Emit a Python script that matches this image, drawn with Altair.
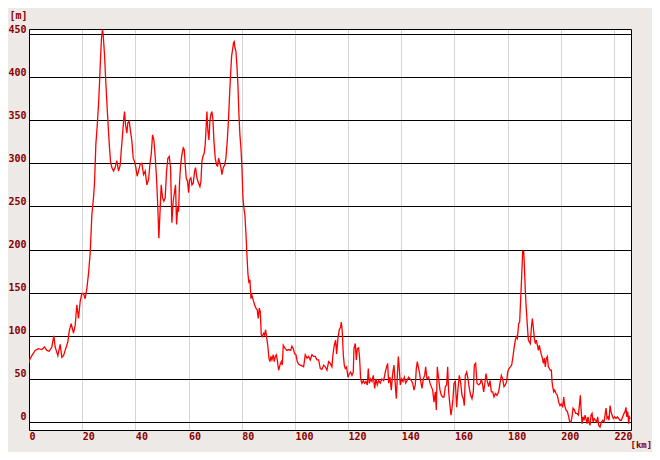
import altair as alt
import pandas as pd

# --- data (distance in km, elevation in m) ---
dist_a = [0.0, 0.2, 1.06, 2.32, 3.57, 4.83, 5.83, 6.71, 7.59, 8.59, 9.34, 9.84, 10.85, 11.72, 12.35,
          12.98, 13.6, 14.61, 15.11, 15.86, 16.74, 17.37, 17.99, 18.62, 19.25, 19.87, 20.5, 21.13,
          21.76, 22.38, 23.01, 23.64, 24.26, 24.64, 25.14, 25.64, 26.14, 26.52, 26.9, 27.27, 27.65,
          27.9, 28.4, 28.78, 29.15, 29.53, 29.9, 30.28, 30.66, 31.16, 31.79, 32.41, 33.04, 33.67,
          34.3, 34.67, 35.17, 35.67, 35.93, 36.3, 36.8, 37.18, 37.68, 38.18, 38.68, 39.19, 39.69,
          40.19, 40.69, 41.19, 41.82, 42.45, 43.07, 43.7, 44.33, 44.95, 45.58, 45.96, 46.46, 46.96,
          47.46, 47.96, 48.46, 48.84, 49.22, 49.72, 50.22, 50.72, 51.22, 51.73, 52.23, 52.73, 53.23,
          53.73, 54.23, 54.74, 55.11, 55.49, 55.95]
elev_a = [68, 72, 77, 83, 85, 84, 87, 83, 82, 87, 100, 87, 77, 90, 75,
          77, 83, 93, 105, 114, 103, 112, 136, 120, 140, 149, 149, 143,
          155, 172, 196, 240, 260, 277, 322, 343, 368, 393, 422, 446, 455,
          449, 426, 401, 378, 357, 337, 318, 302, 295, 291, 295, 303, 291,
          298, 314, 333, 353, 360, 345, 335, 347, 349, 337, 326, 306, 302,
          295, 285, 291, 299, 300, 287, 291, 275, 281, 302, 310, 333, 327,
          308, 283, 248, 213, 240, 275, 260, 256, 260, 291, 306, 308, 295,
          231, 256, 267, 275, 229, 250]

dist_b = [56.25, 56.63, 57.0, 57.5, 58.0, 58.38, 58.76, 59.13, 59.64, 60.01, 60.39, 60.89, 61.27,
          61.77, 62.27, 62.65, 63.15, 63.77, 64.28, 64.65, 65.03, 65.4, 65.9, 66.28, 66.66, 66.91,
          67.29, 67.66, 68.04, 68.41, 68.79, 69.17, 69.54, 70.04, 70.55, 70.92, 71.3, 71.67, 72.18,
          72.55, 73.05, 73.56, 74.06, 74.56, 75.06, 75.44, 75.81, 76.19, 76.56, 76.94, 77.19, 77.44,
          77.82, 78.2, 78.57, 78.95, 79.32, 79.7, 80.08, 80.45, 80.83, 81.2, 81.58, 81.96, 82.33,
          82.71, 83.09, 83.46, 83.84, 84.34, 84.84, 85.34, 85.84, 86.22, 86.6, 86.97, 87.35, 87.73,
          88.23, 88.6, 88.98, 89.36, 89.86, 90.23, 90.61, 90.99, 91.36, 91.86, 92.24, 92.62, 92.99,
          93.37, 93.87, 94.37, 94.87, 95.25, 95.63, 96.0, 96.38, 97.01, 97.63, 98.38, 98.89, 99.39,
          99.89, 100.39, 100.89, 101.39, 102.02, 102.65, 103.28, 103.9, 104.53, 105.16, 105.78,
          106.41, 107.04, 107.66, 108.29, 108.92, 109.55, 110.17, 110.8, 111.43, 112.05, 112.68]
elev_b = [244, 279, 297, 310, 318, 316, 298, 283, 279, 266, 281, 283, 275,
          277, 291, 295, 283, 277, 273, 279, 302, 308, 312, 322, 345, 360,
          337, 327, 349, 357, 360, 351, 326, 306, 298, 297, 306, 302, 295,
          287, 295, 298, 306, 326, 353, 380, 403, 424, 432, 440, 441, 434,
          430, 413, 391, 357, 333, 318, 295, 260, 248, 240, 219, 194, 172,
          161, 165, 143, 147, 141, 136, 132, 130, 120, 132, 128, 101, 99,
          103, 101, 107, 99, 87, 74, 70, 76, 72, 78, 70, 76, 78,
          72, 60, 66, 70, 66, 89, 87, 85, 83, 84, 83, 88, 85,
          79, 78, 70, 67, 66, 65, 64, 78, 74, 76, 72,
          78, 76, 76, 72, 72, 62, 61, 66, 64, 60, 70]

dist_c = [113.31, 113.93, 114.31, 114.81, 115.31, 115.69, 116.19, 116.69, 117.19, 117.45, 117.82,
          118.2, 118.57, 118.95, 119.45, 119.95, 120.45, 120.96, 121.46, 121.96, 122.21, 122.71,
          123.09, 123.46, 123.97, 124.34, 124.72, 125.22, 125.72, 126.22, 126.72, 127.23, 127.6,
          127.98, 128.48, 128.98, 129.48, 129.99, 130.49, 130.99, 131.49, 132.12, 132.74, 133.37,
          134.0, 134.5, 134.88, 135.25, 135.75, 136.25, 136.76, 137.26, 137.76, 138.14, 138.51,
          138.89, 139.27, 139.64, 140.14, 140.64, 141.15, 141.65, 142.15, 142.78, 143.28, 143.78,
          144.28, 144.78, 145.28, 145.66, 146.04, 146.41, 146.79, 147.29, 147.79, 148.29, 148.8,
          149.17, 149.67, 150.3, 150.8, 151.3, 151.81, 152.31, 152.81, 153.18, 153.56, 154.06,
          154.56, 155.06, 155.57, 156.07, 156.57, 157.07, 157.45, 157.82, 158.32, 158.7, 159.08,
          159.45, 159.83, 160.33, 160.83, 161.34, 161.84, 162.34, 162.84, 163.34, 163.72, 164.09,
          164.6, 165.1, 165.6, 166.1, 166.6, 167.1, 167.48, 167.98, 168.48, 169.11, 169.74]
elev_c = [68, 64, 78, 89, 95, 79, 97, 107, 110, 116, 105,
          78, 66, 62, 64, 52, 56, 58, 54, 58, 85, 91,
          72, 85, 86, 74, 50, 45, 48, 45, 47, 43, 62,
          45, 50, 47, 54, 39, 50, 43, 48, 45, 50, 48,
          58, 64, 68, 45, 52, 37, 56, 66, 43, 27, 52,
          76, 62, 43, 50, 47, 52, 45, 48, 52, 50, 48,
          45, 37, 43, 62, 70, 64, 58, 48, 39, 50, 54,
          64, 50, 52, 45, 41, 37, 23, 35, 14, 64, 50,
          37, 31, 29, 29, 41, 43, 64, 35, 19, 8, 16,
          27, 45, 47, 17, 39, 54, 45, 31, 27, 19, 54,
          58, 50, 39, 31, 27, 35, 66, 68, 45, 43, 45]

dist_d = [170.11, 170.61, 170.99, 171.37, 171.87, 172.37, 172.87, 173.37, 173.88, 174.38, 174.88,
          175.38, 176.01, 176.63, 177.14, 177.64, 178.14, 178.64, 179.14, 179.64, 180.02, 180.52,
          181.02, 181.52, 182.03, 182.4, 182.9, 183.28, 183.66, 184.16, 184.53, 184.91, 185.29,
          185.66, 186.04, 186.29, 186.67, 187.04, 187.42, 187.79, 188.17, 188.55, 188.92, 189.3,
          189.68, 190.05, 190.43, 190.8, 191.18, 191.56, 191.93, 192.31, 192.69, 193.06, 193.44,
          193.81, 194.19, 194.57, 194.94, 195.32, 195.7, 196.07, 196.45, 196.7, 196.95, 197.33,
          197.7, 198.2, 198.7, 199.21, 199.71, 200.21, 200.71, 201.09, 201.46, 201.96, 202.47,
          202.97, 203.34, 203.85, 204.22, 204.6, 205.1, 205.6, 206.1, 206.6, 206.98, 207.36,
          207.61, 207.98, 208.36, 208.74, 209.11, 209.49, 209.87, 210.24, 210.62, 210.99, 211.37,
          211.75, 212.12, 212.5, 213.0, 213.5, 213.88, 214.25, 214.76, 215.26, 215.76, 216.26,
          216.64, 217.01, 217.39, 217.77, 218.14, 218.52, 218.89, 219.27, 219.77, 220.27, 220.77,
          221.28, 221.78, 222.28, 222.78, 223.28, 223.78, 224.16, 224.53, 224.78, 225.16, 225.53,
          225.78, 226.16]
elev_d = [50, 43, 35, 43, 56, 47, 41, 48, 35, 35, 29,
          33, 31, 35, 45, 54, 50, 41, 43, 47, 58, 62,
          64, 66, 76, 85, 95, 99, 97, 114, 116, 143, 169,
          198, 198, 182, 151, 130, 112, 95, 93, 91, 109, 120,
          109, 97, 91, 95, 89, 83, 89, 83, 78, 74, 68,
          74, 64, 74, 76, 64, 62, 60, 60, 47, 41, 35,
          37, 33, 31, 23, 19, 21, 17, 29, 19, 14, 12,
          6, 0, 0, 6, 16, 14, 10, 10, 8, 19, 31,
          16, -2, 6, 2, 8, 4, -2, 6, 0, -4, 8,
          10, 0, 4, 2, 0, 6, -4, -6, 0, 2, 0,
          8, 16, 4, 6, 2, 19, 12, 8, 4, 6, 4,
          6, 4, 2, 2, 6, 10, 12, 17, 6, 12, -2,
          6, 4]

x_ticks = [0, 20, 40, 60, 80, 100, 120, 140, 160, 180, 200, 220]
y_ticks = [0, 50, 100, 150, 200, 250, 300, 350, 400, 450]

df = pd.DataFrame({
    "km": dist_a + dist_b + dist_c + dist_d,
    "m": elev_a + elev_b + elev_c + elev_d,
})

LABEL = "#880000"
FONT = "DejaVu Sans Mono"

xs = alt.Scale(domain=[0, 226.4], nice=False, zero=False)
ys = alt.Scale(domain=[-9.3, 455.8], nice=False, zero=False)

line = alt.Chart(df).mark_line(color="#ff0000", strokeWidth=1.3, clip=True).encode(
    x=alt.X("km:Q", scale=xs,
            axis=alt.Axis(values=x_ticks, grid=True, gridColor="#d4d4d4", gridWidth=1,
                          domain=True, domainColor="black", domainWidth=1,
                          ticks=False, tickSize=0, labelAlign="left", labelBaseline="middle",
                          labelPadding=6, labelFlush=False, labelOverlap=False,
                          labelColor=LABEL, labelFont=FONT, labelFontSize=10, labelFontWeight="bold",
                          title="[km]", titleColor=LABEL, titleFont=FONT, titleFontSize=9,
                          titleFontWeight="bold", titleX=601, titleY=14, titleAlign="left",
                          titleBaseline="middle")),
    y=alt.Y("m:Q", scale=ys,
            axis=alt.Axis(values=y_ticks, grid=True, gridColor="black", gridWidth=1,
                          domain=True, domainColor="black", domainWidth=1,
                          ticks=False, tickSize=0, labelAlign="right", labelBaseline="middle",
                          labelPadding=3, labelOffset=-5, labelFlush=False, labelOverlap=False,
                          labelColor=LABEL, labelFont=FONT, labelFontSize=10, labelFontWeight="bold",
                          title="[m]", titleColor=LABEL, titleFont=FONT, titleFontSize=10,
                          titleFontWeight="bold", titleAngle=0, titleX=-20, titleY=-14,
                          titleAlign="left", titleBaseline="middle")),
)

frame = alt.Chart(df).mark_line(opacity=0).encode(
    x=alt.X("km:Q", scale=xs,
            axis=alt.Axis(orient="top", grid=False, ticks=False, labels=False, title=None,
                          domain=True, domainColor="black", domainWidth=1)),
    y=alt.Y("m:Q", scale=ys,
            axis=alt.Axis(orient="right", grid=False, ticks=False, labels=False, title=None,
                          domain=True, domainColor="black", domainWidth=1)),
)

chart = alt.layer(line, frame).resolve_axis(x="independent", y="independent").properties(
    width=602,
    height=401,
    autosize=alt.AutoSizeParams(type="none"),
    padding={"left": 21, "top": 21, "right": 21, "bottom": 22},
    background="#ece9e6",
).configure_view(stroke=None, fill="white")

chart.save("out.html", embed_options={"renderer": "svg", "actions": False})
